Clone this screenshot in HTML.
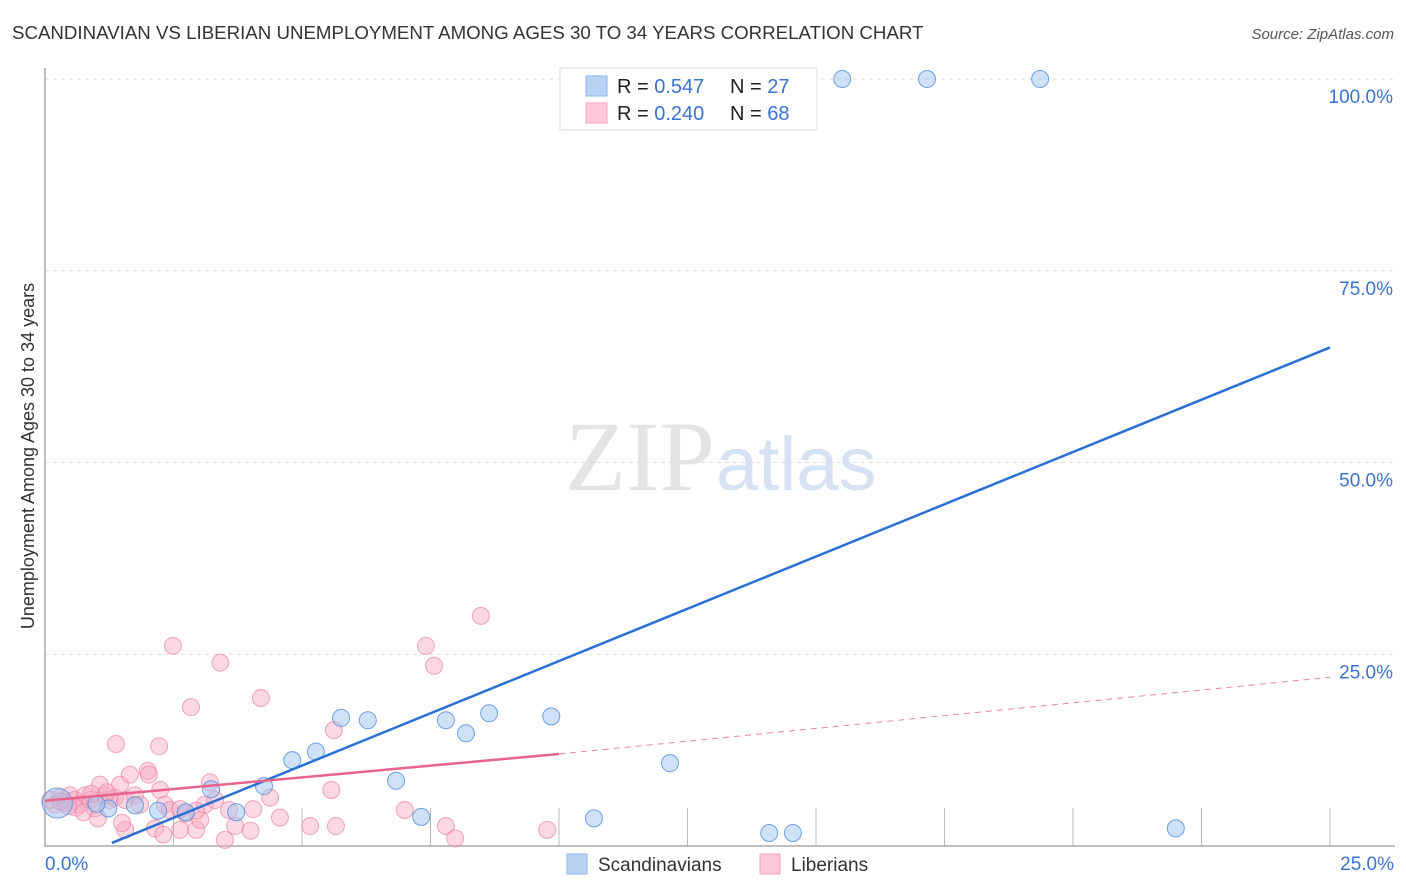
<!DOCTYPE html>
<html><head><meta charset="utf-8"><style>
body{margin:0;background:#fff;font-family:"Liberation Sans",sans-serif;}
svg{display:block}
</style></head><body>
<svg id="chart" width="1406" height="892">
<text x="12" y="39" font-size="18.7" fill="#333">SCANDINAVIAN VS LIBERIAN UNEMPLOYMENT AMONG AGES 30 TO 34 YEARS CORRELATION CHART</text>
<text x="1394" y="39" font-size="15" fill="#555" font-style="italic" text-anchor="end">Source: ZipAtlas.com</text>
<text x="715" y="490" font-size="100" fill="#e4e4e4" font-family="Liberation Serif,serif" text-anchor="end">ZIP</text>
<text x="716" y="490" font-size="76" fill="#d6e2f4">atlas</text>
<text transform="translate(34,456) rotate(-90)" font-size="18" fill="#333" text-anchor="middle">Unemployment Among Ages 30 to 34 years</text>
<g id="grid"></g><g id="pts"></g><g id="lines"></g>
<g>
<rect x="560" y="68" width="257" height="62" fill="#fff" stroke="#ddd"/>
<rect x="586" y="76" width="21" height="20" fill="#b9d3f5" stroke="#8ab4ec"/>
<rect x="586" y="103" width="21" height="20" fill="#fbc9d7" stroke="#f4a3bb"/>
<text x="617" y="93" font-size="20" fill="#222">R = <tspan fill="#3b73d1">0.547</tspan></text>
<text x="730" y="93" font-size="20" fill="#222">N = <tspan fill="#3b73d1">27</tspan></text>
<text x="617" y="120" font-size="20" fill="#222">R = <tspan fill="#3b73d1">0.240</tspan></text>
<text x="730" y="120" font-size="20" fill="#222">N = <tspan fill="#3b73d1">68</tspan></text>
</g>
<g>
<rect x="567" y="854" width="20" height="20" fill="#b9d3f5" stroke="#8ab4ec"/>
<text x="598" y="871" font-size="19" fill="#333">Scandinavians</text>
<rect x="760" y="854" width="20" height="20" fill="#fbc9d7" stroke="#f4a3bb"/>
<text x="791" y="871" font-size="19" fill="#333">Liberians</text>
</g>
</svg>
<script>
const yTicks=[0,25,50,75,100];
const yTickLabels=["","25.0%","50.0%","75.0%","100.0%"];
const blueX=[0.24,1.23,1.75,2.74,3.23,3.72,4.26,4.81,5.27,5.76,6.28,6.83,7.32,7.80,8.19,8.64,9.85,10.68,12.16,14.09,14.55,15.51,17.16,19.36,22.00,1.0,2.2];
const blueY=[5.6,4.9,5.3,4.4,7.4,4.4,7.8,11.2,12.3,16.7,16.4,8.5,3.8,16.4,14.7,17.3,16.9,3.6,10.8,1.7,1.7,100,100,100,2.3,5.5,4.6];
const pinkX=[0.1,0.19,0.29,0.39,0.49,0.58,0.68,0.78,0.88,0.97,1.07,1.17,1.26,1.36,1.46,1.56,1.65,1.75,1.85,2.0,2.14,2.24,2.33,2.43,2.49,2.63,2.74,2.84,2.94,3.02,3.11,3.21,3.31,3.41,3.58,3.7,4.0,4.05,4.2,4.38,4.57,5.16,5.62,5.57,5.66,7.0,7.41,7.57,7.80,7.98,8.48,9.77,1.38,2.22,2.02,1.56,1.03,2.63,2.94,0.3,0.6,0.9,1.2,0.45,0.75,1.5,2.3,3.5];
const pinkY=[6.0,5.4,6.3,5.6,6.6,6.0,5.4,6.6,6.0,4.9,8.0,6.6,6.0,6.3,8.0,6.0,9.3,6.6,5.4,9.8,2.3,7.3,5.4,4.7,26.1,2.1,4.2,18.1,2.1,3.4,5.4,8.3,6.0,23.9,4.7,2.6,2.0,4.8,19.3,6.3,3.7,2.6,15.1,7.3,2.6,4.7,26.1,23.5,2.6,1.0,30.0,2.1,13.3,13.0,9.3,2.1,3.6,4.8,4.6,5.8,5.0,6.8,7.0,5.2,4.4,3.0,1.5,0.8];
const X=v=>45+v/25*1285, Y=v=>846-v/100*767;
const ns="http://www.w3.org/2000/svg";
function mk(p,t,a){const e=document.createElementNS(ns,t);for(const k in a)e.setAttribute(k,a[k]);document.getElementById(p).appendChild(e);return e;}
yTicks.forEach((t,i)=>{if(t>0){
const g=mk('grid','line',{x1:45,x2:1395,y1:Y(t),y2:Y(t),stroke:'#ddd','stroke-dasharray':'4,4'});


const l=mk('grid','text',{x:1393,y:Y(t)+24,'font-size':19,fill:'#3b73d1','text-anchor':'end'});l.textContent=yTickLabels[i];

}});
const ax=mk('grid','path',{d:`M45,68V846H1395`,stroke:'#aaa',fill:'none','stroke-width':1.5});


for(let i=1;i<=10;i++){const t=mk('grid','line',{x1:X(i*2.5),x2:X(i*2.5),y1:808,y2:846,stroke:'#bbb'});

}
const x0=mk('grid','text',{x:45,y:870,'font-size':19,fill:'#3b73d1'});x0.textContent='0.0%';


const x1=mk('grid','text',{x:1394,y:870,'font-size':19,fill:'#3b73d1','text-anchor':'end'});x1.textContent='25.0%';


pinkX.forEach((v,i)=>{const c=mk('pts','circle',{cx:X(v),cy:Y(pinkY[i]),r:8.5,fill:'rgba(247,168,192,0.45)',stroke:'rgba(236,130,160,0.7)'});

});
blueX.forEach((v,i)=>{const c=mk('pts','circle',{cx:X(v),cy:Y(blueY[i]),r:i==0?15:8.5,fill:'rgba(160,196,240,0.5)',stroke:'rgba(80,140,220,0.8)'});

});
const bl=mk('lines','line',{x1:X(1.3),y1:Y(0.4),x2:X(25),y2:Y(65),stroke:'#2a6fd6','stroke-width':2.5});


const pl=mk('lines','line',{x1:X(0),y1:Y(5.9),x2:X(10),y2:Y(12),stroke:'#e8648e','stroke-width':2.5});


const pd=mk('lines','line',{x1:X(10),y1:Y(12),x2:X(25),y2:Y(22),stroke:'#e8849e','stroke-width':1,'stroke-dasharray':'6,5'});


</script>
</body></html>
